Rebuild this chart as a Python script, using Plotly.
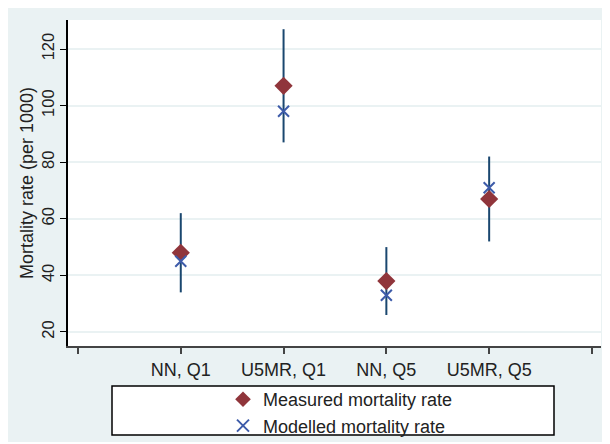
import plotly.graph_objects as go

categories = ["NN, Q1", "U5MR, Q1", "NN, Q5", "U5MR, Q5"]
x_pos = [1, 2, 3, 4]
measured = [48, 107, 38, 67]
modelled = [45, 98, 33, 71]
ci_low = [34, 87, 26, 52]
ci_high = [62, 127, 50, 82]
y_ticks = [20, 40, 60, 80, 100, 120]

FONT = "Liberation Sans, Arial, sans-serif"
BG = "#eaf2f3"

fig = go.Figure()

# Confidence intervals (no caps), drawn first so markers sit on top
fig.add_trace(go.Scatter(
    x=x_pos, y=measured, mode="markers",
    marker=dict(size=1, opacity=0),
    error_y=dict(type="data", symmetric=False,
                 array=[h - m for h, m in zip(ci_high, measured)],
                 arrayminus=[m - l for m, l in zip(measured, ci_low)],
                 color="#1a476f", thickness=2, width=0),
    showlegend=False, hoverinfo="skip"))

fig.add_trace(go.Scatter(
    x=x_pos, y=measured, mode="markers", name="Measured mortality rate",
    marker=dict(symbol="diamond", size=14, color="#90353b")))

fig.add_trace(go.Scatter(
    x=x_pos, y=modelled, mode="markers", name="Modelled mortality rate",
    marker=dict(symbol="x-thin", size=11, color="#3d5ba9",
                line=dict(width=2, color="#3d5ba9"))))

# page is offset by the default 8px body margin
OFF = 8
W, H = 610 - OFF, 444 - OFF
L, R, T, B = 68 - OFF, 610 - 601, 20 - OFF, 444 - 346
pw, ph = W - L - R, H - T - B

def px_x(p):  # page pixel -> paper x
    return (p - OFF - L) / pw

def px_y(p):  # page pixel -> paper y
    return (H - B - (p - OFF)) / ph

shapes = [
    dict(type="rect", xref="paper", yref="paper", x0=px_x(0), x1=px_x(620), y0=px_y(450), y1=px_y(442),
         fillcolor="white", line=dict(width=0), layer="below"),
    # legend box
    dict(type="rect", xref="paper", yref="paper", x0=px_x(112), x1=px_x(554), y0=px_y(435), y1=px_y(386),
         fillcolor="white", line=dict(width=1.5, color="black"), layer="below"),
]

fig.update_layout(
    width=W, height=H,
    margin=dict(l=L, r=R, t=T, b=B, pad=0, autoexpand=False),
    paper_bgcolor=BG, plot_bgcolor="white",
    font=dict(family=FONT, color="#222222"),
    shapes=shapes,
    showlegend=True,
    legend=dict(x=px_x(223), y=px_y(381), xanchor="left", yanchor="top",
                bgcolor="rgba(0,0,0,0)", borderwidth=0,
                font=dict(size=18, family=FONT, color="#222222"),
                tracegroupgap=0, itemsizing="constant"),
    xaxis=dict(range=[-0.097, 5.088], tickmode="array",
               tickvals=[0, 1, 2, 3, 4, 5], ticktext=[""] + categories + [""],
               showgrid=False, zeroline=False, automargin=False,
               showline=True, linecolor="#444444", linewidth=2,
               ticks="outside", ticklen=6, tickwidth=1.5, tickcolor="#444444",
               tickfont=dict(size=18, family=FONT, color="#222222")),
    yaxis=dict(range=[15.05, 130.25], tickmode="array", tickvals=y_ticks,
               tickangle=-90, automargin=False,
               showgrid=True, gridcolor=BG, gridwidth=1.5,
               zeroline=False,
               showline=True, linecolor="black", linewidth=1.5,
               ticks="outside", ticklen=6, tickwidth=1.2, tickcolor="black",
               tickfont=dict(size=16.5, family=FONT, color="#222222")),
    annotations=[dict(text="Mortality rate (per 1000)", xref="paper", yref="paper",
                      x=px_x(27), y=px_y(183), textangle=-90, showarrow=False,
                      xanchor="center", yanchor="middle",
                      font=dict(size=18, family=FONT, color="#222222"))],
)

fig.write_html("out.html")
